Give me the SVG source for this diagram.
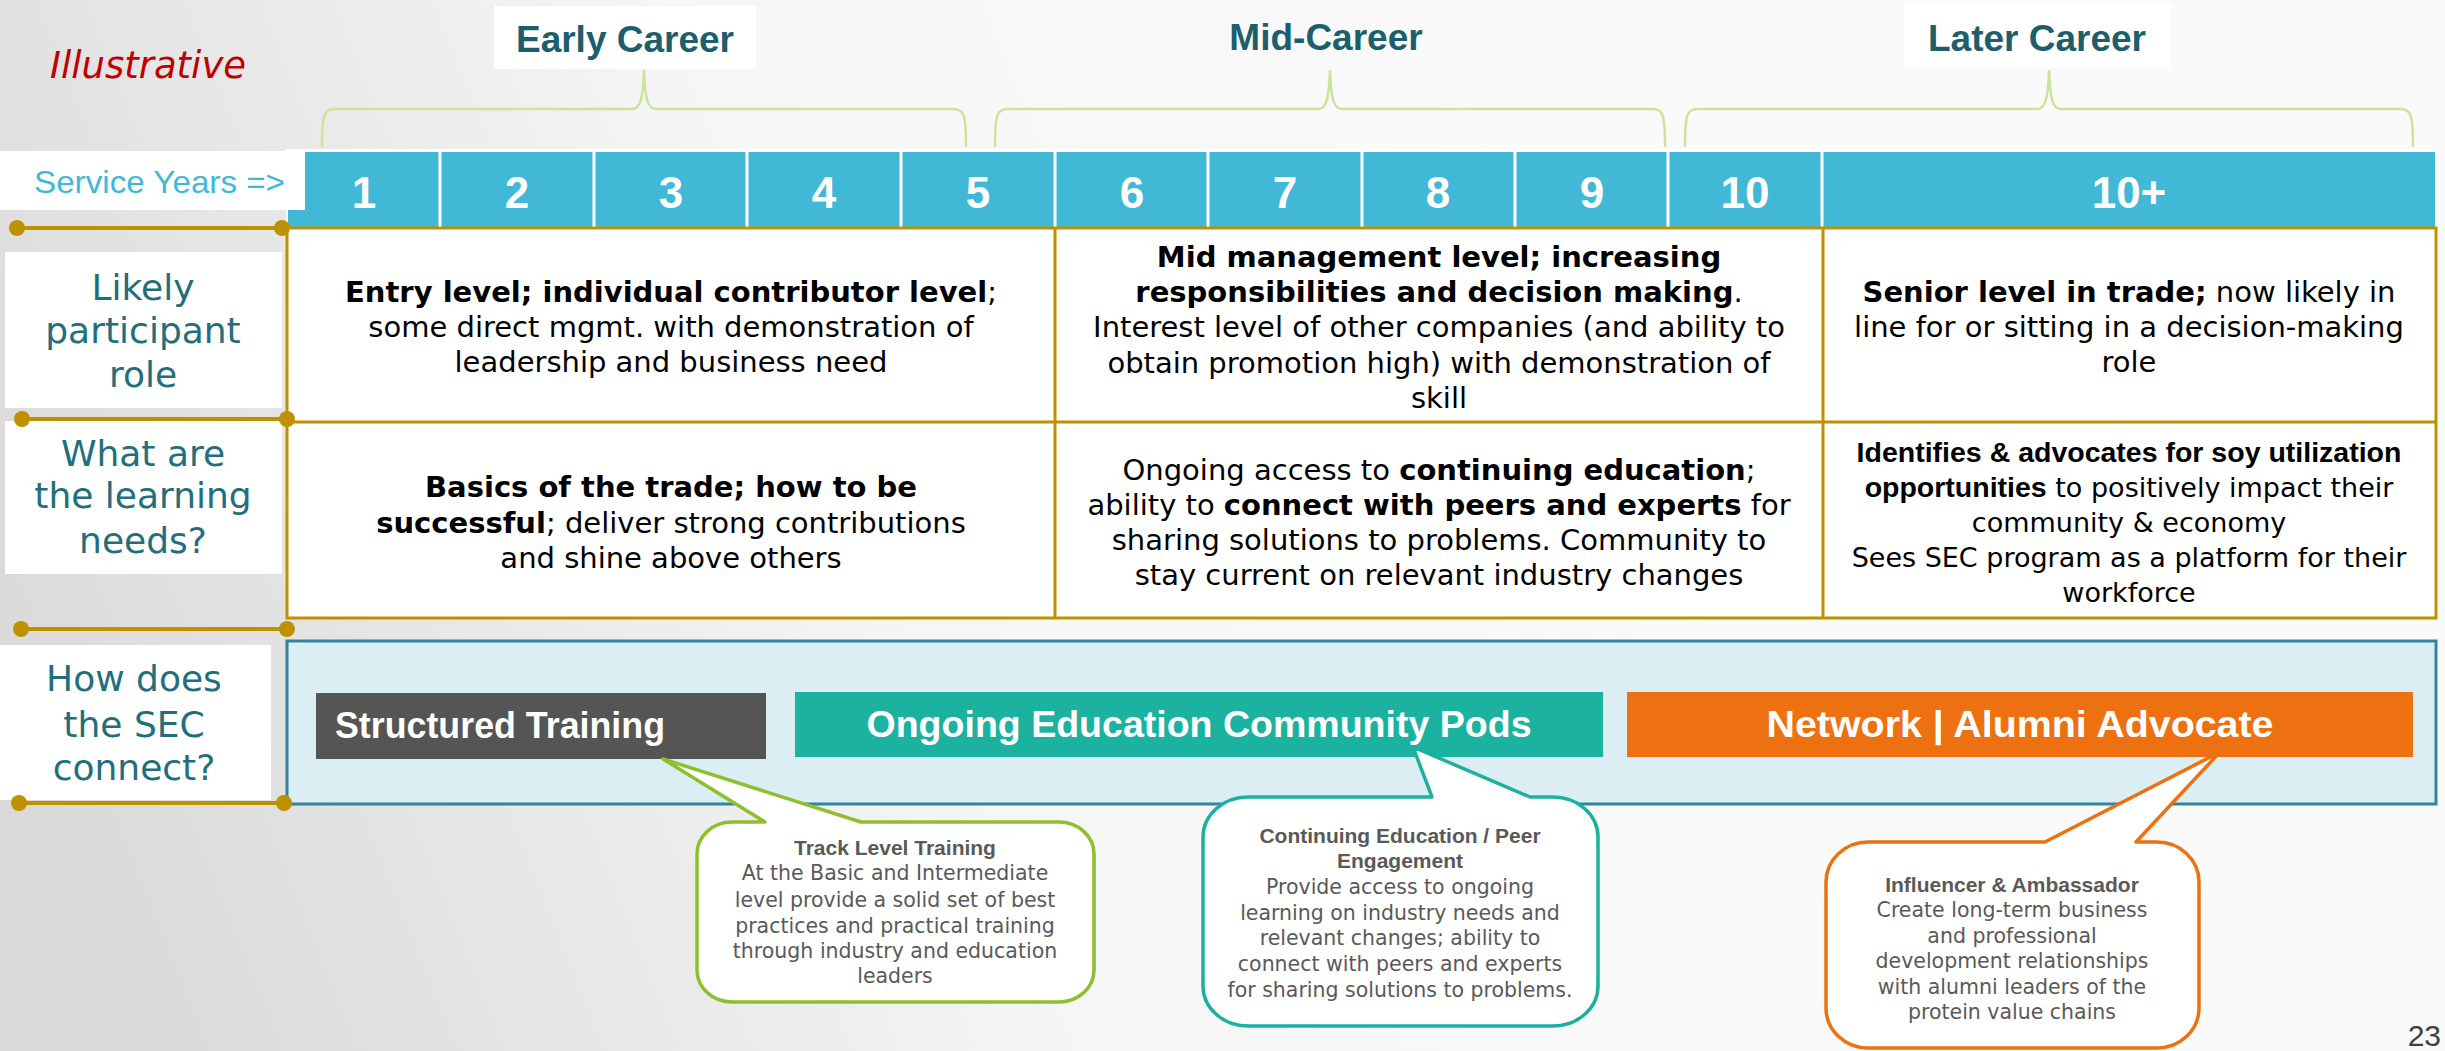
<svg xmlns="http://www.w3.org/2000/svg" width="2445" height="1051" viewBox="0 0 2445 1051">
<defs>
<linearGradient id="bg" gradientUnits="userSpaceOnUse" x1="0" y1="700" x2="1500" y2="100">
<stop offset="0" stop-color="#D9D9D9"/><stop offset="0.55" stop-color="#F6F6F6"/><stop offset="1" stop-color="#FAFAFA"/>
</linearGradient>
<style>
.v{font-family:"DejaVu Sans",Verdana,sans-serif;font-size:29px;fill:#000;text-anchor:middle}
.b{font-weight:bold}
.lbl{font-family:"DejaVu Sans",sans-serif;font-size:36px;fill:#226E7C;text-anchor:middle}
.ttl{font-family:"Liberation Sans",Arial,sans-serif;font-weight:bold;font-size:37px;fill:#1C5E6C;text-anchor:middle}
.dig{font-family:"Liberation Sans",Arial,sans-serif;font-weight:bold;font-size:44px;fill:#fff;text-anchor:middle}
.bar{font-family:"Liberation Sans",Arial,sans-serif;font-weight:bold;font-size:37px;fill:#fff}
.cg{font-family:"DejaVu Sans",sans-serif;font-size:27px;fill:#000;text-anchor:middle}
.cgb{font-family:"Liberation Sans",Arial,sans-serif;font-weight:bold;font-size:28.5px}
.co{font-family:"DejaVu Sans",sans-serif;font-size:20.5px;fill:#595959;text-anchor:middle}
.cob{font-family:"Liberation Sans",Arial,sans-serif;font-weight:bold;font-size:21px;fill:#595959;text-anchor:middle}
.gold{stroke:#BF9000;stroke-width:4;fill:none}
.goldt{stroke:#BF9000;stroke-width:3;fill:none}
.dot{fill:#BF9000}
.brace{fill:none;stroke:#CDE39A;stroke-width:2.5}
.sep{stroke:#fff;stroke-width:3}
.lbox{fill:#fff}
</style>
</defs>
<rect x="0" y="0" width="2445" height="1051" fill="url(#bg)"/>

<g id="illustrative">
<text x="50" y="78" font-family="DejaVu Sans, sans-serif" font-style="italic" font-size="37" fill="#C00000">Illustrative</text>
</g>

<g id="title-early">
<rect x="494" y="6" width="262" height="63" fill="#fff"/>
<text class="ttl" x="625" y="52">Early Career</text>
</g>
<g id="title-mid">
<text class="ttl" x="1326" y="50">Mid-Career</text>
</g>
<g id="title-later">
<rect x="1904" y="3" width="267" height="65" fill="#fff"/>
<text class="ttl" x="2037" y="51">Later Career</text>
</g>

<g id="years-bar">
<rect x="286" y="149" width="2151" height="80" fill="#fff"/>
<rect x="288" y="152" width="2147" height="75" fill="#41B8D5"/>
<line class="sep" x1="440" y1="152" x2="440" y2="227"/>
<line class="sep" x1="594" y1="152" x2="594" y2="227"/>
<line class="sep" x1="747" y1="152" x2="747" y2="227"/>
<line class="sep" x1="901" y1="152" x2="901" y2="227"/>
<line class="sep" x1="1055" y1="152" x2="1055" y2="227"/>
<line class="sep" x1="1208" y1="152" x2="1208" y2="227"/>
<line class="sep" x1="1362" y1="152" x2="1362" y2="227"/>
<line class="sep" x1="1515" y1="152" x2="1515" y2="227"/>
<line class="sep" x1="1668" y1="152" x2="1668" y2="227"/>
<line class="sep" x1="1822" y1="152" x2="1822" y2="227"/>
<text class="dig" x="364" y="208">1</text>
<text class="dig" x="517" y="208">2</text>
<text class="dig" x="671" y="208">3</text>
<text class="dig" x="824" y="208">4</text>
<text class="dig" x="978" y="208">5</text>
<text class="dig" x="1132" y="208">6</text>
<text class="dig" x="1285" y="208">7</text>
<text class="dig" x="1438" y="208">8</text>
<text class="dig" x="1592" y="208">9</text>
<text class="dig" x="1745" y="208">10</text>
<text class="dig" x="2129" y="208">10+</text>
</g>

<g id="service-years-label">
<rect x="0" y="151" width="305" height="59" fill="#fff"/>
<text x="34" y="193" font-family="Liberation Sans, Arial, sans-serif" font-size="32" fill="#41B8D5" textLength="251" lengthAdjust="spacingAndGlyphs">Service Years =&gt;</text>
</g>

<g id="row-labels">
<g id="label-role">
<rect class="lbox" x="5" y="252" width="277" height="156"/>
<text class="lbl" x="143" y="300">Likely</text>
<text class="lbl" x="143" y="343">participant</text>
<text class="lbl" x="143" y="387">role</text>
</g>
<g id="label-needs">
<rect class="lbox" x="5" y="421" width="277" height="153"/>
<text class="lbl" x="143" y="466">What are</text>
<text class="lbl" x="143" y="508">the learning</text>
<text class="lbl" x="143" y="553">needs?</text>
</g>
<g id="label-connect">
<rect class="lbox" x="0" y="645" width="271" height="155"/>
<text class="lbl" x="134" y="691">How does</text>
<text class="lbl" x="134" y="737">the SEC</text>
<text class="lbl" x="134" y="780">connect?</text>
</g>
</g>

<g id="table">
<rect x="287" y="228" width="2149" height="390" fill="#fff" stroke="#BF9000" stroke-width="3"/>
<line class="goldt" x1="287" y1="422" x2="2436" y2="422"/>
<line class="goldt" x1="1055" y1="228" x2="1055" y2="618"/>
<line class="goldt" x1="1823" y1="228" x2="1823" y2="618"/>
</g>

<g id="cell-early-role">
<text class="v" x="671" y="302"><tspan class="b">Entry level; individual contributor level</tspan>;</text>
<text class="v" x="671" y="337">some direct mgmt. with demonstration of</text>
<text class="v" x="671" y="372">leadership and business need</text>
</g>
<g id="cell-mid-role">
<text class="v b" x="1439" y="267">Mid management level; increasing</text>
<text class="v" x="1439" y="302"><tspan class="b">responsibilities and decision making</tspan>.</text>
<text class="v" x="1439" y="337">Interest level of other companies (and ability to</text>
<text class="v" x="1439" y="373">obtain promotion high) with demonstration of</text>
<text class="v" x="1439" y="408">skill</text>
</g>
<g id="cell-later-role">
<text class="v" x="2129" y="302"><tspan class="b">Senior level in trade;</tspan> now likely in</text>
<text class="v" x="2129" y="337">line for or sitting in a decision-making</text>
<text class="v" x="2129" y="372">role</text>
</g>
<g id="cell-early-needs">
<text class="v b" x="671" y="497">Basics of the trade; how to be</text>
<text class="v" x="671" y="533"><tspan class="b">successful</tspan>; deliver strong contributions</text>
<text class="v" x="671" y="568">and shine above others</text>
</g>
<g id="cell-mid-needs">
<text class="v" x="1439" y="480">Ongoing access to <tspan class="b">continuing education</tspan>;</text>
<text class="v" x="1439" y="515">ability to <tspan class="b">connect with peers and experts</tspan> for</text>
<text class="v" x="1439" y="550">sharing solutions to problems. Community to</text>
<text class="v" x="1439" y="585">stay current on relevant industry changes</text>
</g>
<g id="cell-later-needs">
<text class="cg" x="2129" y="462"><tspan class="cgb">Identifies &amp; advocates for soy utilization</tspan></text>
<text class="cg" x="2129" y="497"><tspan class="cgb">opportunities</tspan> to positively impact their</text>
<text class="cg" x="2129" y="532">community &amp; economy</text>
<text class="cg" x="2129" y="567">Sees SEC program as a platform for their</text>
<text class="cg" x="2129" y="602">workforce</text>
</g>

<g id="connect-panel">
<rect x="287" y="641" width="2149" height="163" fill="#DAEEF3" stroke="#31849B" stroke-width="3"/>
</g>
<g id="structured-training">
<rect x="316" y="693" width="450" height="66" fill="#555555"/>
<text class="bar" x="335" y="738" textLength="330" lengthAdjust="spacingAndGlyphs">Structured Training</text>
</g>
<g id="ongoing-education">
<rect x="795" y="692" width="808" height="65" fill="#1BB3A0"/>
<text class="bar" x="1199" y="737" text-anchor="middle" textLength="665" lengthAdjust="spacingAndGlyphs">Ongoing Education Community Pods</text>
</g>
<g id="network-alumni">
<rect x="1627" y="692" width="786" height="65" fill="#ED7011"/>
<text class="bar" x="2020" y="737" text-anchor="middle" textLength="507" lengthAdjust="spacingAndGlyphs">Network | Alumni Advocate</text>
</g>

<g id="connectors">
<path class="brace" d="M322,147 C322,115 324,109 334,109 L632,109 C640,109 643,100 644,70 C645,100 648,109 656,109 L954,109 C964,109 966,115 966,147"/>
<path class="brace" d="M995,147 C995,115 997,109 1007,109 L1318,109 C1326,109 1329,100 1330,70 C1331,100 1334,109 1342,109 L1653,109 C1663,109 1665,115 1665,147"/>
<path class="brace" d="M1685,147 C1685,115 1687,109 1697,109 L2037,109 C2045,109 2048,100 2049,70 C2050,100 2053,109 2061,109 L2401,109 C2411,109 2413,115 2413,147"/>
<line class="gold" x1="17" y1="228" x2="287" y2="228"/>
<circle class="dot" cx="17" cy="228" r="8"/><circle class="dot" cx="282" cy="228" r="8"/>
<line class="gold" x1="22" y1="419" x2="287" y2="419"/>
<circle class="dot" cx="22" cy="419" r="8"/><circle class="dot" cx="287" cy="419" r="8"/>
<line class="gold" x1="21" y1="629" x2="287" y2="629"/>
<circle class="dot" cx="21" cy="629" r="8"/><circle class="dot" cx="287" cy="629" r="8"/>
<line class="gold" x1="19" y1="803" x2="284" y2="803"/>
<circle class="dot" cx="19" cy="803" r="8"/><circle class="dot" cx="284" cy="803" r="8"/>
</g>

<g id="callout-track">
<path d="M732,822 L765,822 L663,759 L861,822 L1059,822 A35,32 0 0 1 1094,854 L1094,970 A35,32 0 0 1 1059,1002 L732,1002 A35,32 0 0 1 697,970 L697,854 A35,32 0 0 1 732,822 Z" fill="#fff" stroke="#8DBF2E" stroke-width="3.5" stroke-linejoin="round"/>
<text class="cob" x="895" y="855">Track Level Training</text>
<text class="co" x="895" y="880">At the Basic and Intermediate</text>
<text class="co" x="895" y="907">level provide a solid set of best</text>
<text class="co" x="895" y="933">practices and practical training</text>
<text class="co" x="895" y="958">through  industry and education</text>
<text class="co" x="895" y="983">leaders</text>
</g>

<g id="callout-continuing">
<path d="M1248,797 L1432,797 L1413,747 L1530,797 L1553,797 A45,40 0 0 1 1598,837 L1598,986 A45,40 0 0 1 1553,1026 L1248,1026 A45,40 0 0 1 1203,986 L1203,837 A45,40 0 0 1 1248,797 Z" fill="#fff" stroke="#1DB09E" stroke-width="3.5" stroke-linejoin="round"/>
<text class="cob" x="1400" y="843">Continuing Education / Peer</text>
<text class="cob" x="1400" y="868">Engagement</text>
<text class="co" x="1400" y="894">Provide access to ongoing</text>
<text class="co" x="1400" y="920">learning on industry needs and</text>
<text class="co" x="1400" y="945">relevant changes; ability to</text>
<text class="co" x="1400" y="971">connect with peers and experts</text>
<text class="co" x="1400" y="997">for sharing solutions to problems.</text>
</g>

<g id="callout-influencer">
<path d="M1868,842 L2045,842 L2220,752 L2136,842 L2157,842 A42,40 0 0 1 2199,882 L2199,1008 A42,40 0 0 1 2157,1048 L1868,1048 A42,40 0 0 1 1826,1008 L1826,882 A42,40 0 0 1 1868,842 Z" fill="#fff" stroke="#ED7011" stroke-width="3.5" stroke-linejoin="round"/>
<text class="cob" x="2012" y="892">Influencer &amp; Ambassador</text>
<text class="co" x="2012" y="917">Create long-term business</text>
<text class="co" x="2012" y="943">and professional</text>
<text class="co" x="2012" y="968">development relationships</text>
<text class="co" x="2012" y="994">with alumni leaders of the</text>
<text class="co" x="2012" y="1019">protein value chains</text>
</g>

<g id="page-number">
<text x="2441" y="1046" text-anchor="end" font-family="Liberation Sans, Arial, sans-serif" font-size="30" fill="#404040">23</text>
</g>
</svg>
